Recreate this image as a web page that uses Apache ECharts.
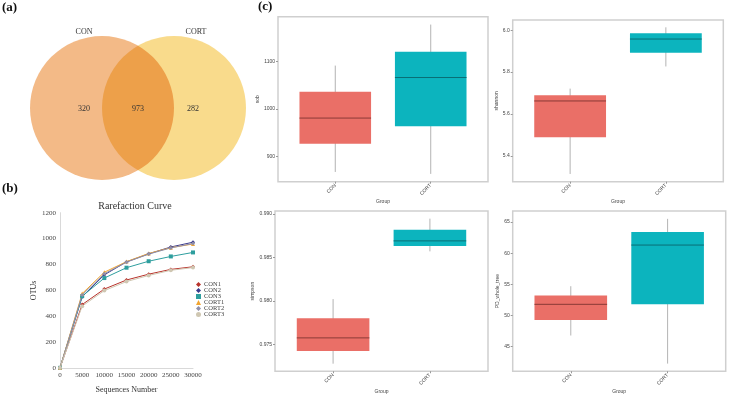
<!DOCTYPE html>
<html>
<head>
<meta charset="utf-8">
<script src="https://cdn.jsdelivr.net/npm/echarts@6/dist/echarts.min.js"></script>
<style>
  html, body { margin: 0; padding: 0; background: #fff; }
  #main { width: 733px; height: 395px; }
</style>
</head>
<body>
<div id="main"></div>
<script>
// venn counts: CON only, shared, CORT only
const vennSets = ['CON', 'CORT'];
const vennCounts = [320, 973, 282];

// rarefaction curves
const seqDepth = [0, 5000, 10000, 15000, 20000, 25000, 30000];
const CON1 = [1, 490, 610, 680, 725, 762, 782];
const CON2 = [1, 550, 720, 820, 882, 935, 972];
const CON3 = [1, 555, 695, 775, 825, 862, 893];
const CORT1 = [1, 575, 740, 822, 885, 930, 958];
const CORT2 = [1, 565, 728, 818, 880, 928, 962];
const CORT3 = [1, 478, 598, 668, 715, 755, 776];
const otuTicks = [0, 200, 400, 600, 800, 1000, 1200];

// alpha diversity boxes: [min, Q1, median, Q3, max]
const groups = ['CON', 'CORT'];
const sobsCON = [868, 927, 981, 1036, 1091];
const sobsCORT = [864, 964, 1066, 1120, 1177];
const shannonCON = [5.313, 5.489, 5.662, 5.689, 5.721];
const shannonCORT = [5.827, 5.893, 5.958, 5.986, 6.014];
const simpsonCON = [0.97281, 0.97427, 0.97577, 0.97803, 0.98022];
const simpsonCORT = [0.98570, 0.98631, 0.98690, 0.98817, 0.98945];
const pdCON = [46.8, 49.3, 51.8, 53.2, 54.7];
const pdCORT = [42.3, 51.8, 61.3, 63.4, 65.5];
const sobsTicks = [900, 1000, 1100];
const shannonTicks = [5.4, 5.6, 5.8, 6.0];
const simpsonTicks = [0.975, 0.980, 0.985, 0.990];
const pdTicks = [45, 50, 55, 60, 65];

const serif = 'Liberation Serif';
const sans = 'Liberation Sans';
const boxFill = ['#EA6F67', '#0CB4BE'];
const boxMedian = ['#8A3A35', '#0A6E75'];

const chart = echarts.init(document.getElementById('main'));

function renderBox(params, api) {
  const x = api.value(0);
  const lo = api.coord([x, api.value(1)]);
  const q1 = api.coord([x, api.value(2)]);
  const md = api.coord([x, api.value(3)]);
  const q3 = api.coord([x, api.value(4)]);
  const hi = api.coord([x, api.value(5)]);
  const w = api.size([0.75, 0])[0];
  const i = params.dataIndex;
  return {
    type: 'group',
    children: [
      {type: 'line', shape: {x1: lo[0], y1: lo[1], x2: hi[0], y2: hi[1]}, style: {stroke: '#a0a0a0', lineWidth: 0.8}},
      {type: 'rect', shape: {x: q3[0] - w / 2, y: q3[1], width: w, height: q1[1] - q3[1]}, style: {fill: boxFill[i]}},
      {type: 'line', shape: {x1: md[0] - w / 2, y1: md[1], x2: md[0] + w / 2, y2: md[1]}, style: {stroke: boxMedian[i], lineWidth: 1}}
    ]
  };
}

function boxData(a, b) {
  return [[1].concat(a), [2].concat(b)];
}

function boxX(idx) {
  return {
    type: 'value', gridIndex: idx, min: 0.4, max: 2.6,
    name: 'Group', nameLocation: 'middle', nameGap: 13,
    nameTextStyle: {fontFamily: sans, fontSize: 5, color: '#444'},
    splitLine: {show: false},
    axisLine: {show: false},
    axisTick: {show: true, length: 2, customValues: [1, 2], lineStyle: {color: '#999'}},
    axisLabel: {
      customValues: [1, 2], rotate: 45, margin: 3, fontFamily: sans, fontSize: 5, color: '#444',
      formatter: v => groups[Math.round(v) - 1]
    }
  };
}

function boxY(idx, min, max, ticks, name, gap, digits) {
  return {
    type: 'value', gridIndex: idx, min: min, max: max,
    name: name, nameLocation: 'middle', nameGap: gap,
    nameTextStyle: {fontFamily: sans, fontSize: 5, color: '#444'},
    splitLine: {show: false},
    axisLine: {show: false},
    axisTick: {show: true, length: 2, customValues: ticks, lineStyle: {color: '#999'}},
    axisLabel: {
      customValues: ticks, margin: 3, fontFamily: sans, fontSize: 5, color: '#444',
      formatter: v => v.toFixed(digits)
    }
  };
}

const boxGrid = {show: true, borderColor: '#cfcfcf', borderWidth: 1.5, backgroundColor: '#fff'};

const curveNames = ['CON1', 'CON2', 'CON3', 'CORT1', 'CORT2', 'CORT3'];
const curveData = [CON1, CON2, CON3, CORT1, CORT2, CORT3];
const curveColors = ['#B8322B', '#3A3A8C', '#2E9E9E', '#F2A530', '#8F8FAA', '#CFC7B2'];
const curveSymbols = ['diamond', 'diamond', 'rect', 'triangle', 'diamond', 'circle'];

const curveSeries = curveNames.map((n, k) => ({
  name: n, type: 'line', xAxisIndex: 0, yAxisIndex: 0,
  data: seqDepth.map((d, j) => [d, curveData[k][j]]),
  symbol: curveSymbols[k], symbolSize: 4,
  lineStyle: {color: curveColors[k], width: 1},
  itemStyle: {color: curveColors[k]}
}));

const option = {
  animation: false,
  backgroundColor: '#fff',
  graphic: [
    {type: 'text', left: 2, top: 1, style: {text: '(a)', font: 'bold 13px "Liberation Serif"', fill: '#111'}},
    {type: 'text', left: 2, top: 182, style: {text: '(b)', font: 'bold 13px "Liberation Serif"', fill: '#111'}},
    {type: 'text', left: 258, top: 0, style: {text: '(c)', font: 'bold 13px "Liberation Serif"', fill: '#111'}},
    {type: 'circle', shape: {cx: 102, cy: 108, r: 72}, style: {fill: '#F3BA87'}},
    {type: 'circle', shape: {cx: 174, cy: 108, r: 72}, style: {fill: '#F9DB8C', blend: 'multiply'}},
    {type: 'text', x: 84, y: 32, style: {text: vennSets[0], font: '8px "Liberation Serif"', fill: '#333', align: 'center', verticalAlign: 'middle'}},
    {type: 'text', x: 196, y: 32, style: {text: vennSets[1], font: '8px "Liberation Serif"', fill: '#333', align: 'center', verticalAlign: 'middle'}},
    {type: 'text', x: 84, y: 109, style: {text: String(vennCounts[0]), font: '8px "Liberation Serif"', fill: '#333', align: 'center', verticalAlign: 'middle'}},
    {type: 'text', x: 138, y: 109, style: {text: String(vennCounts[1]), font: '8px "Liberation Serif"', fill: '#333', align: 'center', verticalAlign: 'middle'}},
    {type: 'text', x: 193, y: 109, style: {text: String(vennCounts[2]), font: '8px "Liberation Serif"', fill: '#333', align: 'center', verticalAlign: 'middle'}}
  ],
  title: {
    text: 'Rarefaction Curve', left: 130, top: 196, textAlign: 'center',
    textStyle: {fontFamily: serif, fontSize: 10, fontWeight: 'normal', color: '#333'}
  },
  legend: {
    data: curveNames.map((n, k) => ({name: n, icon: curveSymbols[k]})),
    orient: 'vertical', left: 196, top: 281,
    itemWidth: 5, itemHeight: 5, itemGap: -1, padding: 0,
    textStyle: {fontFamily: serif, fontSize: 6.5, color: '#444', padding: [0, 0, 0, -2]}
  },
  grid: [
    {left: 60, top: 212.7, width: 133, height: 158.3},
    Object.assign({left: 278, top: 16.7, width: 210, height: 165}, boxGrid),
    Object.assign({left: 512.7, top: 20, width: 210.6, height: 161.7}, boxGrid),
    Object.assign({left: 275, top: 211, width: 213, height: 168}, boxGrid),
    Object.assign({left: 512.7, top: 211, width: 213, height: 168}, boxGrid)
  ],
  xAxis: [
    {
      type: 'value', gridIndex: 0, min: 0, max: 30000, interval: 5000,
      name: 'Sequences Number', nameLocation: 'middle', nameGap: 18,
      nameTextStyle: {fontFamily: serif, fontSize: 8, color: '#333'},
      splitLine: {show: false},
      axisLine: {lineStyle: {color: '#d9d9d9'}},
      axisTick: {show: false},
      axisLabel: {fontFamily: serif, fontSize: 7, color: '#444', margin: 4, formatter: v => String(v)}
    },
    boxX(1), boxX(2), boxX(3), boxX(4)
  ],
  yAxis: [
    {
      type: 'value', gridIndex: 0, min: 0, max: 1200, interval: 200,
      name: 'OTUs', nameLocation: 'middle', nameGap: 20,
      nameTextStyle: {fontFamily: serif, fontSize: 8, color: '#333'},
      splitLine: {show: false},
      axisLine: {show: true, lineStyle: {color: '#d9d9d9'}},
      axisTick: {show: false},
      axisLabel: {fontFamily: serif, fontSize: 7, color: '#444', margin: 4, formatter: v => String(v)}
    },
    boxY(1, 847.6, 1193.5, sobsTicks, 'sob', 11, 0),
    boxY(2, 5.276, 6.049, shannonTicks, 'shannon', 9, 1),
    boxY(3, 0.97194, 0.99033, simpsonTicks, 'simpson', 13, 3),
    boxY(4, 41.07, 66.76, pdTicks, 'PD_whole_tree', 12, 0)
  ],
  series: curveSeries.concat([
    {type: 'custom', xAxisIndex: 1, yAxisIndex: 1, renderItem: renderBox, data: boxData(sobsCON, sobsCORT)},
    {type: 'custom', xAxisIndex: 2, yAxisIndex: 2, renderItem: renderBox, data: boxData(shannonCON, shannonCORT)},
    {type: 'custom', xAxisIndex: 3, yAxisIndex: 3, renderItem: renderBox, data: boxData(simpsonCON, simpsonCORT)},
    {type: 'custom', xAxisIndex: 4, yAxisIndex: 4, renderItem: renderBox, data: boxData(pdCON, pdCORT)}
  ])
};

chart.setOption(option);
</script>
</body>
</html>
